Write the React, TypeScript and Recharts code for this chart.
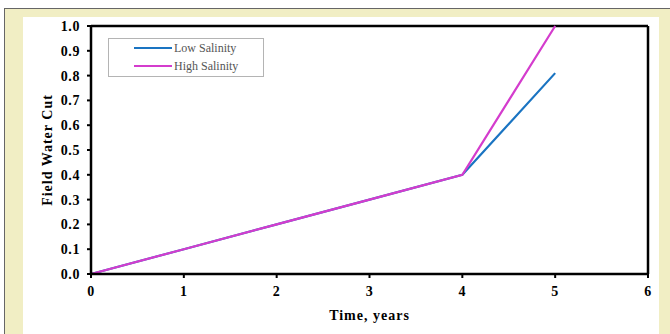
import { Label, Line, LineChart, ReferenceLine, XAxis, YAxis } from "recharts";

// water cut vs time for the two injection cases
const years = [0, 1, 2, 3, 4, 5];
const lowSalinity = [0, 0.1, 0.2, 0.3, 0.4, 0.81];
const highSalinity = [0, 0.1, 0.2, 0.3, 0.4, 1.0];
const xTicks = [0, 1, 2, 3, 4, 5, 6];
const yTicks = [0, 0.1, 0.2, 0.3, 0.4, 0.5, 0.6, 0.7, 0.8, 0.9, 1.0];

const data = years.map((t, i) => ({ t, low: lowSalinity[i], high: highSalinity[i] }));

const SERIF = "'Liberation Serif', 'Times New Roman', serif";
const BLUE = "#1a74c2";
const MAGENTA = "#d43ccd";

const tickStyle = { fill: "#000", fontFamily: SERIF, fontSize: 14, fontWeight: 700, letterSpacing: 0.6 };
const titleStyle = { fill: "#000", fontFamily: SERIF, fontSize: 14, fontWeight: 700, letterSpacing: 1 };

function LegendBox() {
  const rows = [
    { name: "Low Salinity", color: BLUE },
    { name: "High Salinity", color: MAGENTA }
  ];
  return (
    <div
      style={{
        position: "absolute",
        left: 108,
        top: 38,
        width: 154,
        height: 37,
        border: "1px solid #b4b4b4",
        background: "#fff"
      }}
    >
      {rows.map((r, i) => (
        <div
          key={r.name}
          style={{ position: "absolute", left: 0, top: i === 0 ? 0 : 18, display: "flex", alignItems: "center", height: 18 }}
        >
          <div style={{ width: 38, height: 2.5, background: r.color, marginLeft: 25 }} />
          <span style={{ fontFamily: SERIF, fontSize: 12, color: "#555", marginLeft: 2, lineHeight: "18px" }}>
            {r.name}
          </span>
        </div>
      ))}
    </div>
  );
}

export default function App() {
  return (
    <div style={{ position: "fixed", left: 0, top: 0, width: 670, height: 334, background: "#fff", overflow: "hidden" }}>
      <div
        style={{
          position: "absolute",
          left: 4,
          top: 8,
          width: 680,
          height: 340,
          background: "#f1eec4",
          borderTop: "1px solid #666",
          borderLeft: "1px solid #666"
        }}
      />
      <div style={{ position: "absolute", left: 23, top: 17, width: 636, height: 330, background: "#fff" }} />
      <div style={{ position: "absolute", left: 0, top: 0 }}>
        <LineChart width={670} height={334} data={data} margin={{ top: 26, right: 22, bottom: 14, left: 51 }}>
          <XAxis
            dataKey="t"
            type="number"
            domain={[0, 6]}
            ticks={xTicks}
            interval={0}
            height={46}
            tick={tickStyle}
            tickSize={4}
            tickMargin={8}
            axisLine={{ stroke: "#000", strokeWidth: 2.5 }}
            tickLine={{ stroke: "#000", strokeWidth: 2 }}
          >
            <Label value="Time, years" position="insideBottom" offset={0} style={titleStyle} />
          </XAxis>
          <YAxis
            type="number"
            domain={[0, 1]}
            ticks={yTicks}
            interval={0}
            width={40}
            tick={tickStyle}
            tickFormatter={(v: number) => v.toFixed(1)}
            tickSize={4}
            tickMargin={7}
            axisLine={{ stroke: "#000", strokeWidth: 2.5 }}
            tickLine={{ stroke: "#000", strokeWidth: 2 }}
          >
            <Label
              value="Field Water Cut"
              angle={-90}
              position="insideLeft"
              offset={-4}
              style={{ ...titleStyle, textAnchor: "middle" }}
            />
          </YAxis>
          <ReferenceLine y={1} stroke="#000" strokeWidth={2.5} />
          <ReferenceLine x={6} stroke="#000" strokeWidth={2.5} />
          <Line
            type="linear"
            dataKey="low"
            name="Low Salinity"
            stroke={BLUE}
            strokeWidth={2.2}
            dot={false}
            isAnimationActive={false}
          />
          <Line
            type="linear"
            dataKey="high"
            name="High Salinity"
            stroke={MAGENTA}
            strokeWidth={2.2}
            dot={false}
            isAnimationActive={false}
          />
        </LineChart>
      </div>
      <LegendBox />
    </div>
  );
}
